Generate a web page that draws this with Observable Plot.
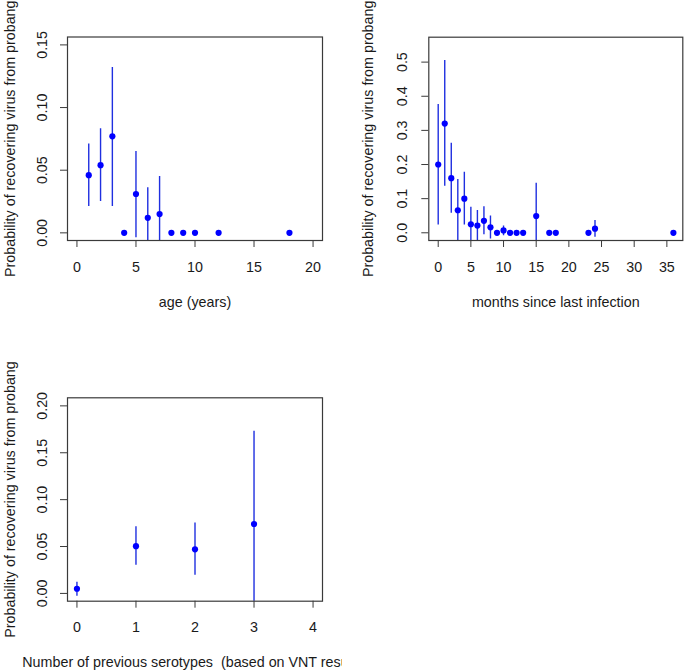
<!DOCTYPE html>
<html>
<head>
<meta charset="utf-8">
<script src="https://cdn.jsdelivr.net/npm/d3@7"></script>
<script src="https://cdn.jsdelivr.net/npm/@observablehq/plot@0.6"></script>
<style>
  html, body { margin: 0; padding: 0; background: #fff; }
  #fig { position: relative; width: 685px; height: 671px; overflow: hidden; background: #fff; }
  .panel { position: absolute; overflow: hidden; }
  .panel svg { display: block; }
</style>
</head>
<body>
<div id="fig"></div>
<script>
// ---- Data ----
const yTitle = "Probability of recovering virus from probang";

// Panel 1: age
const ageX  = [1, 2, 3, 4, 5, 6, 7, 8, 9, 10, 12, 18];
const ageP  = [0.046, 0.054, 0.077, 0, 0.031, 0.012, 0.015, 0, 0, 0, 0, 0];
const ageLo = [0.021, 0.025, 0.021, null, -0.004, -0.02, -0.02, null, null, null, null, null];
const ageHi = [0.071, 0.083, 0.132, null, 0.065, 0.036, 0.045, null, null, null, null, null];
const ageXTicks = [0, 5, 10, 15, 20];
const ageYTicks = [0, 0.05, 0.10, 0.15];
const ageYLabels = ["0.00", "0.05", "0.10", "0.15"];
const ageTitle = "age (years)";

// Panel 2: months since last infection
const monX  = [0, 1, 2, 3, 4, 5, 6, 7, 8, 9, 10, 11, 12, 13, 15, 17, 18, 23, 24, 36];
const monP  = [0.200, 0.320, 0.160, 0.066, 0.100, 0.025, 0.021, 0.035, 0.016, 0, 0.007, 0, 0, 0, 0.049, 0, 0, 0, 0.012, 0];
const monLo = [0.023, 0.136, 0.057, -0.05, 0.023, -0.05, -0.05, -0.006, -0.018, null, -0.009, null, null, null, -0.05, null, null, null, -0.013, null];
const monHi = [0.376, 0.505, 0.262, 0.156, 0.177, 0.075, 0.065, 0.076, 0.049, null, 0.020, null, null, null, 0.145, null, null, null, 0.036, null];
const monXTicks = [0, 5, 10, 15, 20, 25, 30, 35];
const monYTicks = [0, 0.1, 0.2, 0.3, 0.4, 0.5];
const monYLabels = ["0.0", "0.1", "0.2", "0.3", "0.4", "0.5"];
const monTitle = "months since last infection";

// Panel 3: number of previous serotypes
const serX  = [0, 1, 2, 3];
const serP  = [0.005, 0.0504, 0.047, 0.074];
const serLo = [-0.003, 0.030, 0.0195, -0.03];
const serHi = [0.012, 0.071, 0.075, 0.173];
const serXTicks = [0, 1, 2, 3, 4];
const serYTicks = [0, 0.05, 0.10, 0.15, 0.20];
const serYLabels = ["0.00", "0.05", "0.10", "0.15", "0.20"];
const serTitle = "Number of previous serotypes  (based on VNT results)";

const FONT = "'Liberation Sans', Arial, Helvetica, sans-serif";
const TEXT = "#1a1a1a";
const LINE = "#3a3a3a";
const FS = 14.3;

function panel(cfg) {
  const rows = cfg.x.map((x, i) => ({x, p: cfg.p[i], lo: cfg.lo[i], hi: cfg.hi[i]}));
  const ci = rows.filter(d => d.lo != null && d.hi != null);
  const ylab = cfg.yTicks.map((v, i) => ({v, t: cfg.yLabels[i]}));
  return Plot.plot({
    width: cfg.width,
    height: cfg.height,
    marginLeft: cfg.ml, marginRight: cfg.mr, marginTop: cfg.mt, marginBottom: cfg.mb,
    style: {fontFamily: FONT, fontSize: FS + "px", background: "#fff", overflow: "visible"},
    x: {domain: cfg.xDomain, axis: null},
    y: {domain: cfg.yDomain, axis: null},
    marks: [
      Plot.axisX(cfg.xTicks, {tickSize: 7, tickFormat: () => "", label: null, stroke: LINE, strokeWidth: 1}),
      Plot.axisY(cfg.yTicks, {tickSize: 7, tickFormat: () => "", label: null, stroke: LINE, strokeWidth: 1}),
      Plot.text(cfg.xTicks, {x: d => d, frameAnchor: "bottom", dy: 26.5, text: d => String(d),
        fill: TEXT, fontSize: FS, textAnchor: "middle", lineAnchor: "middle"}),
      Plot.text(ylab, {y: "v", frameAnchor: "left", dx: -cfg.ytl, text: "t", rotate: -90,
        fill: TEXT, fontSize: FS, textAnchor: "middle", lineAnchor: "middle"}),
      Plot.text([cfg.xTitle], {frameAnchor: "bottom", dy: 61.5, text: d => d,
        fill: TEXT, fontSize: FS, textAnchor: "middle", lineAnchor: "middle"}),
      Plot.text([yTitle], {frameAnchor: "left", dx: -cfg.ytt, text: d => d, rotate: -90,
        fill: TEXT, fontSize: FS, textAnchor: "middle", lineAnchor: "middle"}),
      Plot.ruleX(ci, {x: "x", y1: "lo", y2: "hi", stroke: "#1f2fe0", strokeWidth: 1.4, clip: true}),
      Plot.dot(rows, {x: "x", y: "p", r: 3.1, fill: "#0000ff", stroke: "none"}),
      Plot.frame({stroke: LINE, strokeWidth: 1.2})
    ]
  });
}

const fig = document.getElementById("fig");
function place(el, left, top, w, h) {
  const d = document.createElement("div");
  d.className = "panel";
  d.style.left = left + "px"; d.style.top = top + "px";
  d.style.width = w + "px"; d.style.height = h + "px";
  d.appendChild(el);
  fig.appendChild(d);
}

place(panel({
  x: ageX, p: ageP, lo: ageLo, hi: ageHi,
  xTicks: ageXTicks, yTicks: ageYTicks, yLabels: ageYLabels, xTitle: ageTitle,
  xDomain: [-0.8, 20.8], yDomain: [-0.0061, 0.1563],
  width: 342, height: 335, ml: 67, mr: 20, mt: 36.5, mb: 95, ytl: 25, ytt: 57
}), 0, 0, 342, 335);

place(panel({
  x: monX, p: monP, lo: monLo, hi: monHi,
  xTicks: monXTicks, yTicks: monYTicks, yLabels: monYLabels, xTitle: monTitle,
  xDomain: [-1.44, 37.44], yDomain: [-0.0226, 0.573],
  width: 343, height: 335, ml: 86.3, mr: 2.7, mt: 36.7, mb: 95, ytl: 26.5, ytt: 60
}), 342, 0, 343, 335);

place(panel({
  x: serX, p: serP, lo: serLo, hi: serHi,
  xTicks: serXTicks, yTicks: serYTicks, yLabels: serYLabels, xTitle: serTitle,
  xDomain: [-0.16, 4.16], yDomain: [-0.0083, 0.2086],
  width: 342, height: 336, ml: 67, mr: 20, mt: 62.3, mb: 70.3, ytl: 25, ytt: 57
}), 0, 335, 342, 336);
</script>
</body>
</html>
